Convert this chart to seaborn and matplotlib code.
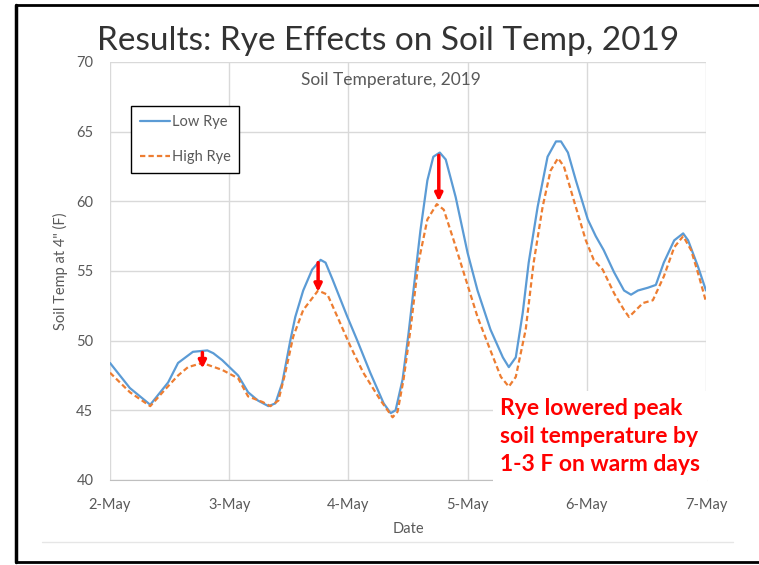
import matplotlib
matplotlib.use("Agg")
import matplotlib.pyplot as plt
from matplotlib.lines import Line2D
import pandas as pd
import seaborn as sns

# hours since 2-May 00:00, values in deg F
low_hours = [0, 4, 8.1, 11.7, 13.7, 16.7, 19.6, 20.8, 22.6, 25.8, 27.8, 29.8, 31.9, 33.3,
             34.7, 36.3, 37.3, 38.9, 40.7, 42.4, 43.4, 44.8, 47.8, 49.8, 52.4, 55.1, 56.5,
             57.5, 58.9, 60.1, 61.1, 62.5, 63.9, 65.1, 66.4, 67.6, 69.6, 72.0, 74.0, 76.6,
             79.1, 80.3, 81.7, 83.1, 84.3, 86.1, 88.1, 89.8, 90.8, 92.2, 93.8, 96.2, 97.8,
             99.4, 101.5, 103.5, 104.9, 106.3, 108.3, 109.9, 111.5, 113.6, 115.4, 116.4,
             118.4, 120.0]
low_temp = [48.4, 46.6, 45.4, 47.0, 48.4, 49.2, 49.3, 49.1, 48.6, 47.5, 46.3, 45.7, 45.3, 45.5,
            47.0, 50.0, 51.7, 53.6, 55.1, 55.8, 55.6, 54.4, 51.7, 50.0, 47.7, 45.5, 44.8,
            45.0, 47.2, 50.5, 53.6, 57.9, 61.5, 63.2, 63.5, 63.0, 60.3, 56.3, 53.6, 50.8,
            48.8, 48.1, 48.8, 52.0, 55.6, 59.6, 63.2, 64.3, 64.3, 63.5, 61.5, 58.7, 57.5,
            56.5, 54.9, 53.6, 53.3, 53.6, 53.8, 54.0, 55.6, 57.2, 57.7, 57.2,
            55.3, 53.6]

high_hours = [0, 4, 8.1, 11.1, 13.7, 15.7, 18.6, 22.6, 25.8, 27.8, 30.7, 32.3, 33.9, 35.3,
              36.9, 38.9, 41.9, 43.8, 45.8, 48.4, 51.0, 54.5, 56.9, 57.9, 59.1, 60.5, 62.1,
              63.9, 65.8, 67.2, 69.2, 71.2, 74.0, 76.6, 78.7, 80.3, 81.7, 83.7, 85.3, 87.1,
              88.7, 90.2, 91.4, 93.2, 95.8, 97.4, 99.2, 101.5, 103.5, 104.5, 105.9, 107.3,
              109.3, 111.5, 113.6, 115.4, 117.0, 118.6, 120.0]
high_temp = [47.7, 46.3, 45.3, 46.5, 47.5, 48.1, 48.4, 47.9, 47.3, 46.0, 45.6, 45.3, 45.7, 47.7,
             50.3, 52.2, 53.6, 53.3, 51.7, 49.6, 47.7, 45.7, 44.5, 44.9, 47.2, 50.8, 55.6,
             58.7, 59.8, 59.4, 57.2, 54.9, 51.7, 49.3, 47.4, 46.7, 47.4, 50.8, 55.6, 59.6,
             62.2, 63.1, 62.5, 60.3, 57.2, 55.8, 55.1, 53.4, 52.2, 51.7, 52.2, 52.7,
             52.9, 54.6, 56.7, 57.5, 56.5, 54.6, 52.8]

day_ticks = [0, 24, 48, 72, 96, 120]
day_labels = ["2-May", "3-May", "4-May", "5-May", "6-May", "7-May"]
temp_ticks = [40, 45, 50, 55, 60, 65, 70]

# red arrows marking the peak drop
arrow_hours = [18.6, 41.9, 66.2]
arrow_from = [49.15, 55.6, 63.3]
arrow_to = [48.0, 53.5, 60.0]

df = pd.concat([
    pd.DataFrame({"Hours": low_hours, "Temp": low_temp, "Series": "Low Rye"}),
    pd.DataFrame({"Hours": high_hours, "Temp": high_temp, "Series": "High Rye"}),
])

sns.set_style("white")
plt.rcParams["font.family"] = ["Lato", "DejaVu Sans"]

fig = plt.figure(figsize=(7.59, 5.65), dpi=100)
ax = fig.add_axes([110 / 759, 1 - 480 / 565, 596 / 759, 418 / 565])

gray = "#595959"
grid = "#d9d9d9"

sns.lineplot(data=df, x="Hours", y="Temp", hue="Series", style="Series",
             palette={"Low Rye": "#5b9bd5", "High Rye": "#ed7d31"},
             dashes={"Low Rye": "", "High Rye": (2.4, 1.4)},
             linewidth=1.6, ax=ax, legend=False, sort=True, estimator=None)

ax.set_xlim(0, 120)
ax.set_ylim(40, 70)
ax.set_xticks(day_ticks)
ax.set_xticklabels(day_labels)
ax.set_yticks(temp_ticks)
ax.tick_params(length=0, colors=gray, labelsize=10.5)
ax.tick_params(axis="x", pad=13)
ax.tick_params(axis="y", pad=12)
ax.grid(True, color=grid, linewidth=1)
for side in ["top", "right", "left"]:
    ax.spines[side].set_visible(False)
ax.spines["bottom"].set_color("#bfbfbf")
ax.set_axisbelow(True)

ax.set_xlabel("Date", color=gray, fontsize=10.5, labelpad=7)
ax.set_ylabel('Soil Temp at 4" (F)', color=gray, fontsize=10.5, labelpad=6)
ax.text(0.472, 0.975, "Soil Temperature, 2019", transform=ax.transAxes,
        ha="center", va="top", color=gray, fontsize=12.5)

# legend
leg = ax.legend(handles=ax.lines[:2], labels=["Low Rye", "High Rye"],
                loc="upper left", bbox_to_anchor=(0.035, 0.895), fontsize=10.5,
                handlelength=2.1, handletextpad=0.1, labelspacing=1.45,
                borderpad=0.6, borderaxespad=0, fancybox=False, framealpha=1)
leg.get_frame().set_edgecolor("black")
leg.get_frame().set_linewidth(1)
for t in leg.get_texts():
    t.set_color(gray)

for h, y0, y1 in zip(arrow_hours, arrow_from, arrow_to):
    ax.annotate("", xy=(h, y1), xytext=(h, y0),
                arrowprops=dict(arrowstyle="-|>", color="red", lw=2.5,
                                mutation_scale=11, shrinkA=0, shrinkB=0))

fig.text(500 / 759, 1 - 398 / 565,
         "Rye lowered peak\nsoil temperature by\n1-3 F on warm days",
         ha="left", va="top", color="red", fontsize=16.5, fontweight="bold",
         linespacing=1.42, zorder=10,
         bbox=dict(facecolor="white", edgecolor="none", pad=5))

fig.text(0.512, 1 - 50 / 565, "Results: Rye Effects on Soil Temp, 2019",
         ha="center", va="baseline", fontsize=24, color="#333333")

# slide frame and footer rule
fig.add_artist(Line2D([16 / 759, 1], [1 - 5 / 565] * 2, color="black", lw=2))
fig.add_artist(Line2D([16 / 759, 1], [1 - 562 / 565] * 2, color="black", lw=2))
fig.add_artist(Line2D([16 / 759] * 2, [1 - 5 / 565, 1 - 562 / 565], color="black", lw=2.5))
fig.add_artist(Line2D([42 / 759, 733 / 759], [1 - 542 / 565] * 2, color="#e6e6e6", lw=1))

fig.savefig("out.png", dpi=100)
